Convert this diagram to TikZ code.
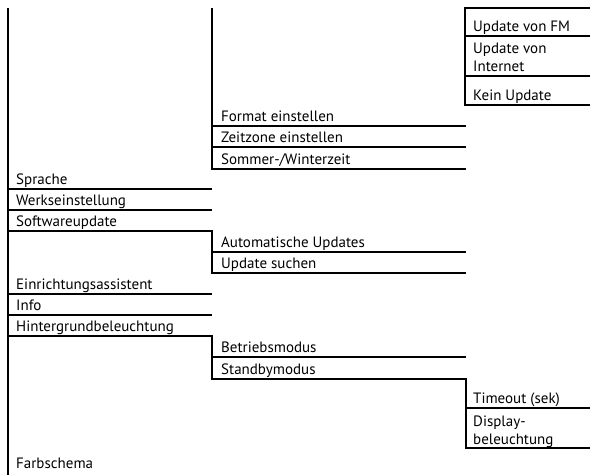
\documentclass[tikz,border=0pt]{standalone}
\usepackage{fontspec}
\setmainfont{PT Sans}
\begin{document}
\begin{tikzpicture}[x=1pt,y=-1pt,
  lbl/.style={anchor=base west, inner sep=0pt, align=left, font=\fontsize{15}{18}\selectfont},
  rule/.style={line width=1.7pt, line join=miter}]
\useasboundingbox (0,0) rectangle (590,475);
% column 1
\node[lbl] (sprache) at (16,184) {Sprache};
\node[lbl] (werk) at (16,205) {Werkseinstellung};
\node[lbl] (soft) at (16,226) {Softwareupdate};
\node[lbl] (einr) at (16,289) {Einrichtungsassistent};
\node[lbl] (info) at (16,310) {Info};
\node[lbl] (hint) at (16,331) {Hintergrundbeleuchtung};
\node[lbl] (farb) at (16,468) {Farbschema};
% column 2
\node[lbl] (format) at (221,121) {Format einstellen};
\node[lbl] (zeit) at (221,142) {Zeitzone einstellen};
\node[lbl] (sommer) at (221,164) {Sommer-/Winterzeit};
\node[lbl] (auto) at (221,247) {Automatische Updates};
\node[lbl] (such) at (221,268) {Update suchen};
\node[lbl] (betr) at (221,352) {Betriebsmodus};
\node[lbl] (stand) at (221,374) {Standbymodus};
% column 3
\node[lbl] (fm) at (473,31) {Update von FM};
\node[lbl] (inet) at (473,71) {Update von\\Internet};
\node[lbl] (kein) at (473,100) {Kein Update};
\node[lbl] (time) at (473,403) {Timeout (sek)};
\node[lbl] (disp) at (473,444) {Display-\\beleuchtung};
% rules column 1
\draw[rule] (8,8) coordinate (c1top) -- (8,475) coordinate (c1bot);
\draw[rule] (8,189) -- (212,189);
\draw[rule] (8,210) -- (212,210);
\draw[rule] (8,231) -- (212,231) -- (212,273) -- (466,273);
\draw[rule] (8,294) -- (212,294);
\draw[rule] (8,315) -- (212,315);
\draw[rule] (8,336) -- (212,336) -- (212,379) -- (466,379) -- (466,448) -- (590,448);
% rules column 2
\draw[rule] (212,8) -- (212,169) -- (466,169);
\draw[rule] (212,126) -- (466,126);
\draw[rule] (212,147) -- (466,147);
\draw[rule] (212,252) -- (466,252);
\draw[rule] (212,357) -- (466,357);
% rules column 3
\draw[rule] (590,8) -- (465,8) -- (465,105) -- (590,105);
\draw[rule] (465,36) -- (590,36);
\draw[rule] (465,76) -- (590,76);
\draw[rule] (466,408) -- (590,408);
\end{tikzpicture}
\end{document}
